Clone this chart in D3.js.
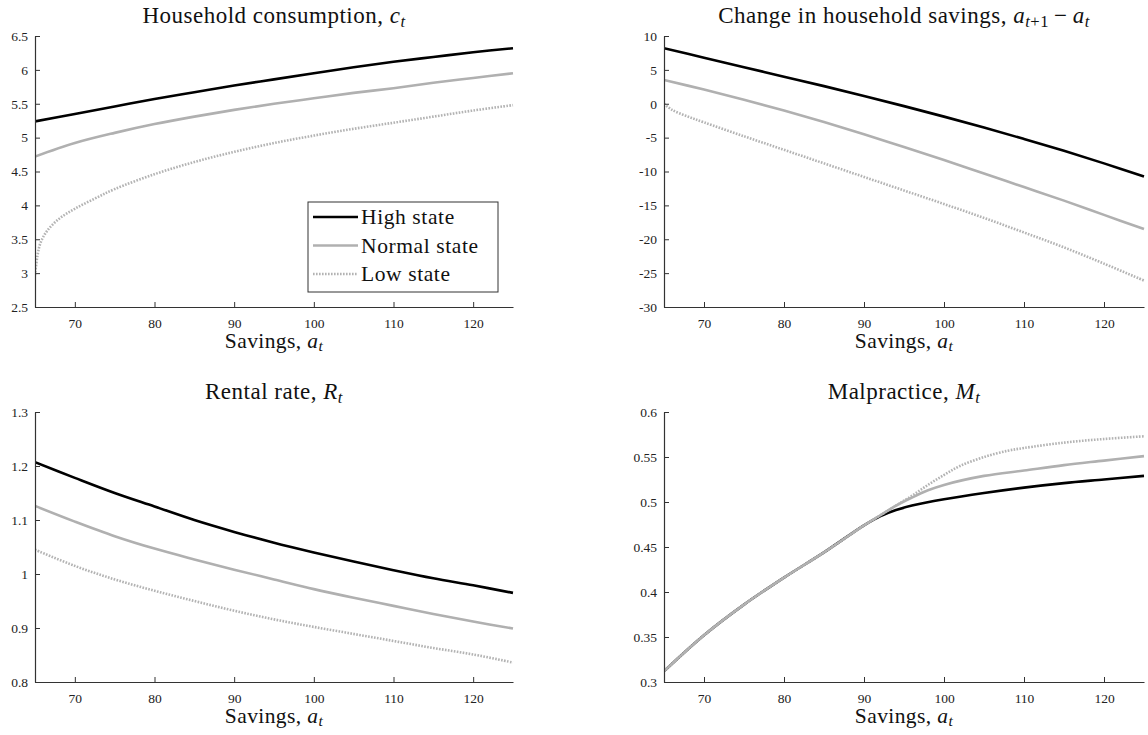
<!DOCTYPE html>
<html><head><meta charset="utf-8">
<script src="https://cdn.jsdelivr.net/npm/d3@7"></script>
<style>
body{margin:0;background:#fff;}
svg{display:block;font-family:"Liberation Serif","DejaVu Serif",serif;}
svg text{font-family:"Liberation Serif","DejaVu Serif",serif !important;}
</style></head>
<body><svg id="chart" width="1148" height="735"></svg>
<script>
// ---- data ----
const xTicks = [70, 80, 90, 100, 110, 120];
const seriesNames = ["High state", "Normal state", "Low state"];

const consumptionHigh = [[65,5.24],[70,5.35],[75,5.46],[80,5.57],[85,5.67],[90,5.77],[95,5.86],[100,5.95],[105,6.04],[110,6.12],[115,6.19],[120,6.26],[125,6.32]];
const consumptionNormal = [[65,4.72],[70,4.92],[75,5.07],[80,5.2],[85,5.31],[90,5.41],[95,5.5],[100,5.58],[105,5.66],[110,5.73],[115,5.81],[120,5.88],[125,5.95]];
const consumptionLow = [[65,2.97],[65.3,3.25],[65.7,3.45],[66.5,3.62],[68,3.8],[70,3.95],[72.5,4.1],[75,4.24],[80,4.46],[85,4.64],[90,4.79],[95,4.92],[100,5.03],[105,5.13],[110,5.22],[115,5.31],[120,5.4],[125,5.48]];
const consumptionTicks = [2.5,3,3.5,4,4.5,5,5.5,6,6.5];

const savingsHigh = [[65,8.2],[70,6.8],[75,5.4],[80,4.0],[85,2.6],[90,1.15],[95,-0.35],[100,-1.9],[105,-3.5],[110,-5.2],[115,-6.95],[120,-8.8],[125,-10.75]];
const savingsNormal = [[65,3.5],[70,2.1],[75,0.6],[80,-1.0],[85,-2.7],[90,-4.5],[95,-6.4],[100,-8.3],[105,-10.3],[110,-12.3],[115,-14.3],[120,-16.4],[125,-18.5]];
const savingsLow = [[65,0.0],[66,-0.9],[68,-1.9],[70,-2.75],[75,-4.8],[80,-6.8],[85,-8.8],[90,-10.8],[95,-12.8],[100,-14.8],[105,-16.85],[110,-19.0],[115,-21.2],[120,-23.6],[125,-26.1]];
const savingsTicks = [-30,-25,-20,-15,-10,-5,0,5,10];

const rentalHigh = [[65,1.207],[70,1.178],[75,1.15],[80,1.125],[85,1.1],[90,1.078],[95,1.058],[100,1.04],[105,1.023],[110,1.007],[115,0.992],[120,0.979],[125,0.965]];
const rentalNormal = [[65,1.126],[70,1.097],[75,1.07],[80,1.047],[85,1.027],[90,1.008],[95,0.99],[100,0.972],[105,0.956],[110,0.941],[115,0.926],[120,0.912],[125,0.899]];
const rentalLow = [[65,1.045],[70,1.015],[75,0.99],[80,0.969],[85,0.95],[90,0.932],[95,0.916],[100,0.902],[105,0.889],[110,0.876],[115,0.863],[120,0.851],[125,0.836]];
const rentalTicks = [0.8,0.9,1,1.1,1.2,1.3];

const malpracticeHigh = [[65,0.312],[70,0.352],[75,0.386],[80,0.416],[85,0.444],[90,0.474],[92,0.484],[94,0.491],[96,0.496],[100,0.503],[105,0.51],[110,0.516],[115,0.521],[120,0.525],[125,0.529]];
const malpracticeNormal = [[65,0.312],[70,0.352],[75,0.386],[80,0.416],[85,0.444],[90,0.474],[92,0.485],[94,0.496],[96,0.505],[98,0.513],[100,0.519],[105,0.529],[110,0.535],[115,0.541],[120,0.546],[125,0.551]];
const malpracticeLow = [[65,0.312],[70,0.352],[75,0.386],[80,0.416],[85,0.444],[90,0.474],[92,0.485],[94,0.496],[96,0.507],[98,0.519],[100,0.53],[102,0.54],[105,0.55],[108,0.557],[110,0.56],[115,0.566],[120,0.57],[125,0.573]];
const malpracticeTicks = [0.3,0.35,0.4,0.45,0.5,0.55,0.6];

// ---- layout ----
const svg = d3.select("#chart");
const FONT = "Liberation Serif";
const styles = [
  {stroke:"#000000", dash:null},
  {stroke:"#b0b0b0", dash:null},
  {stroke:"#b3b3b3", dash:"1.6,1.4"}
];

// parts: "" plain, "i" italic, "s" italic subscript, "n" upright subscript
const panels = [
  {left:35, right:513, top:36, bottom:307, yDom:[2.5,6.5], yTicks:consumptionTicks,
   series:[consumptionHigh, consumptionNormal, consumptionLow],
   title:[["Household consumption, ",""],["c","i"],["t","s"]], legend:true},
  {left:664, right:1144, top:36, bottom:307, yDom:[-30,10], yTicks:savingsTicks,
   series:[savingsHigh, savingsNormal, savingsLow],
   title:[["Change in household savings, ",""],["a","i"],["t","s"],["+1","n"],["\u2009\u2212\u2009",""],["a","i"],["t","s"]]},
  {left:35, right:513, top:412, bottom:682, yDom:[0.8,1.3], yTicks:rentalTicks,
   series:[rentalHigh, rentalNormal, rentalLow],
   title:[["Rental rate, ",""],["R","i"],["t","s"]]},
  {left:664, right:1144, top:412, bottom:682, yDom:[0.3,0.6], yTicks:malpracticeTicks,
   series:[malpracticeHigh, malpracticeNormal, malpracticeLow],
   title:[["Malpractice, ",""],["M","i"],["t","s"]]}
];

function mathText(sel, parts, size) {
  parts.forEach(([txt, kind]) => {
    const ts = sel.append("tspan").text(txt);
    if (kind === "i" || kind === "s") ts.attr("font-style", "italic");
    if (kind === "s" || kind === "n") ts.attr("font-size", size * 0.72).attr("baseline-shift", "-22%");
  });
}

panels.forEach(p => {
  const x = d3.scaleLinear().domain([65,125]).range([p.left, p.right]);
  const y = d3.scaleLinear().domain(p.yDom).range([p.bottom, p.top]);
  const g = svg.append("g");

  const cid = "clip" + p.left + "_" + p.top;
  svg.append("clipPath").attr("id", cid).append("rect")
    .attr("x", p.left).attr("y", p.top - 2).attr("width", p.right - p.left + 3).attr("height", p.bottom - p.top + 4);

  const line = d3.line().x(d => x(d[0])).y(d => y(d[1])).curve(d3.curveCatmullRom.alpha(0.5));
  const lg = g.append("g").attr("clip-path", `url(#${cid})`);
  [0,1,2].forEach(i => {
    lg.append("path").datum(p.series[i])
      .attr("d", line).attr("fill", "none")
      .attr("stroke", styles[i].stroke)
      .attr("stroke-width", 2.6)
      .attr("stroke-dasharray", styles[i].dash)
      .attr("stroke-linejoin", "round");
  });

  const xAxis = d3.axisBottom(x).tickValues(xTicks).tickSizeInner(-5).tickSizeOuter(0).tickPadding(11);
  const yAxis = d3.axisLeft(y).tickValues(p.yTicks).tickSizeInner(-5).tickSizeOuter(0).tickPadding(7)
    .tickFormat(d => d < 0 ? "-" + Math.abs(d) : d3.format("~g")(d));
  const gx = g.append("g").attr("transform", `translate(0,${p.bottom})`).call(xAxis);
  const gy = g.append("g").attr("transform", `translate(${p.left},0)`).call(yAxis);
  [gx, gy].forEach(a => {
    a.attr("font-family", FONT).attr("font-size", 13.5);
    a.select(".domain").attr("stroke", "#333").attr("stroke-width", 1.2);
    a.selectAll(".tick line").attr("stroke", "#333").attr("stroke-width", 1);
    a.selectAll("text").attr("font-family", FONT).attr("font-size", 13.5).attr("fill", "#222");
  });

  const cx = (p.left + p.right) / 2;
  const t = g.append("text").attr("x", cx).attr("y", p.top - 13)
    .attr("text-anchor", "middle").attr("font-size", 23).attr("letter-spacing", 0.5).attr("fill", "#111");
  mathText(t, p.title, 23);

  const xl = g.append("text").attr("x", cx).attr("y", p.bottom + 41)
    .attr("text-anchor", "middle").attr("font-size", 21.5).attr("letter-spacing", 0.4).attr("fill", "#111");
  mathText(xl, [["Savings, ",""],["a","i"],["t","s"]], 21.5);

  if (p.legend) {
    const lx = 308, ly = 202, lw = 190, lh = 90;
    const leg = g.append("g");
    leg.append("rect").attr("x", lx).attr("y", ly).attr("width", lw).attr("height", lh)
      .attr("fill", "#fff").attr("stroke", "#333").attr("stroke-width", 1);
    seriesNames.forEach((name, i) => {
      const yy = ly + 15 + i * 28.5;
      leg.append("line").attr("x1", lx + 5).attr("x2", lx + 50).attr("y1", yy).attr("y2", yy)
        .attr("stroke", styles[i].stroke).attr("stroke-width", 2.6)
        .attr("stroke-dasharray", styles[i].dash);
      leg.append("text").attr("x", lx + 53).attr("y", yy + 7)
        .attr("font-size", 21.5).attr("letter-spacing", 0.6).attr("fill", "#111").text(name);
    });
  }
});
</script></body></html>
